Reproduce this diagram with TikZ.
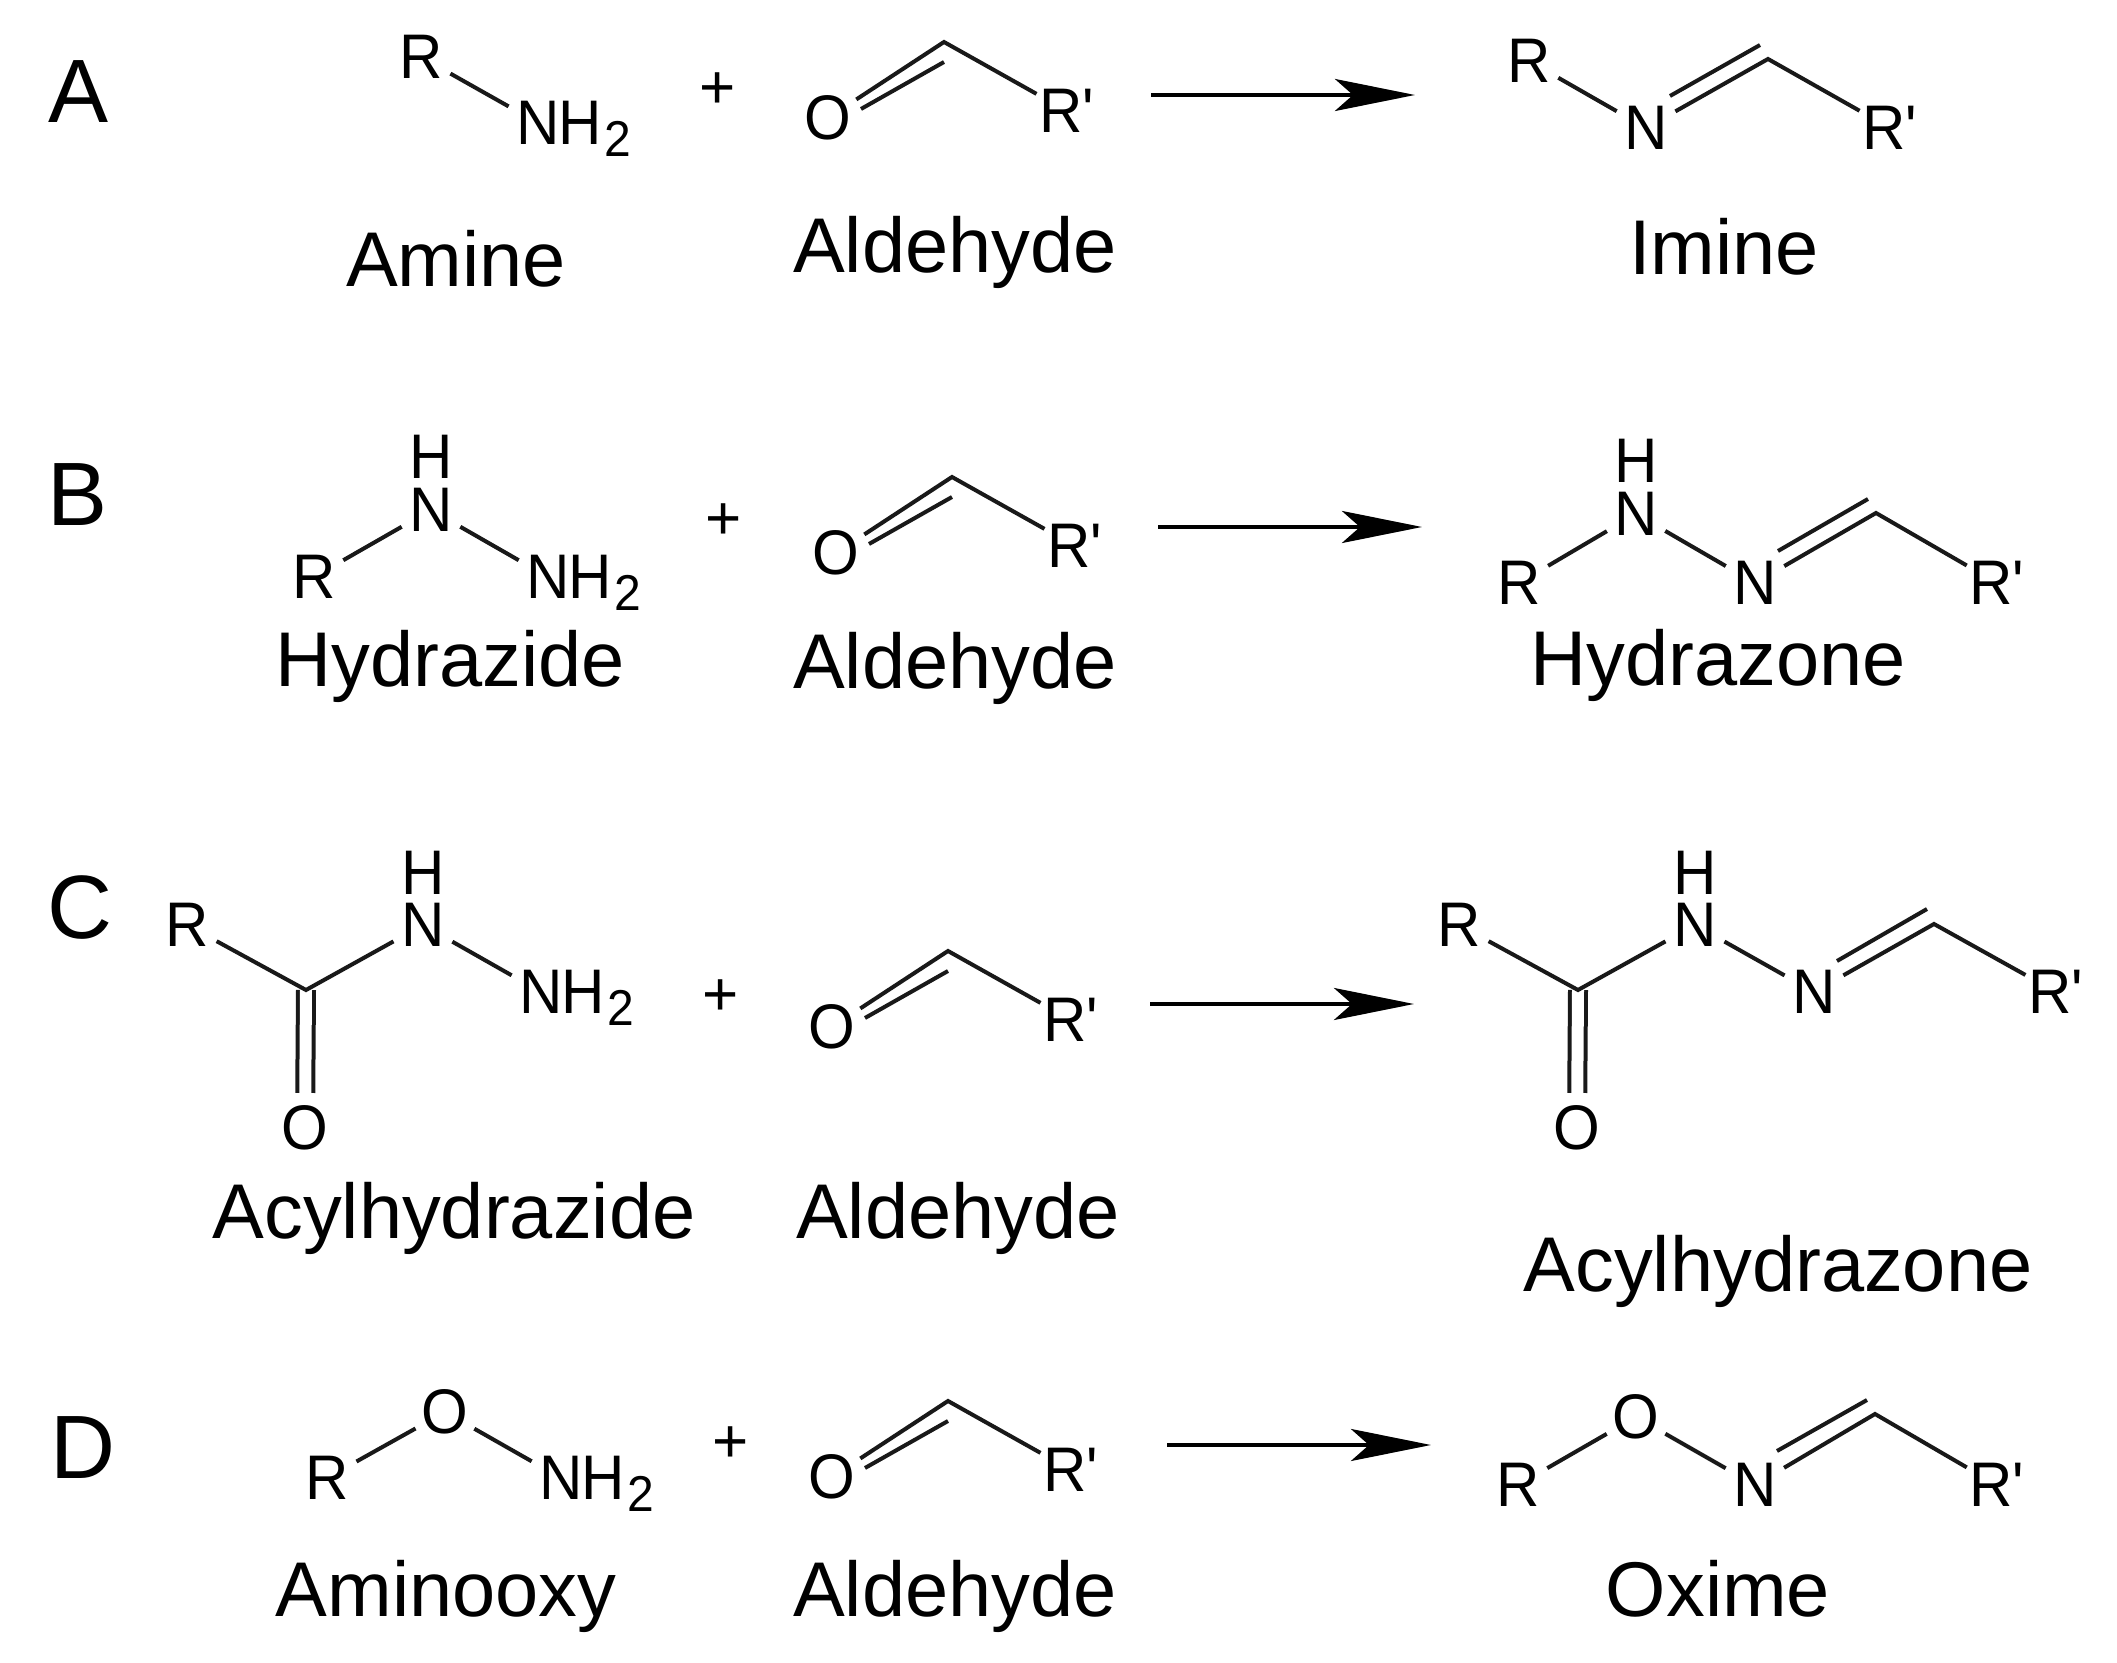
\documentclass[tikz,border=0pt]{standalone}
\usepackage{fontspec}
\setmainfont{Liberation Sans}
\usetikzlibrary{positioning, arrows.meta}
\newcommand{\rprime}{R\textquotesingle}
\tikzset{
    atom/.style={circle, inner sep=0pt, minimum size=33pt, font=\fontsize{30}{32}\selectfont, yscale=1.05, transform shape},
    hyd/.style={inner sep=0pt, font=\fontsize{30}{32}\selectfont, yscale=1.05, transform shape},
    cmpd/.style={anchor=base, inner sep=0pt, font=\fontsize{38.8}{40}\selectfont},
    panel/.style={anchor=base west, inner sep=0pt, font=\fontsize{45}{47}\selectfont},
    plussign/.style={inner sep=0pt, font=\fontsize{31}{33}\selectfont},
    bond/.style={line width=2pt, color=black!90},
    rxn/.style={line width=2.3pt, -{Stealth[length=40pt, width=16pt, inset=9pt]}}
}
\newcommand{\hh}{H\kern1.2pt\raisebox{-5.5pt}{\fontsize{24}{24}\selectfont 2}}
\begin{document}
\begin{tikzpicture}[x=0.5pt, y=-0.5pt]
    \useasboundingbox (0,0) rectangle (2117,1663);
    % panel letters
    \node[panel] (lA) at (48,123) {A};
    \node[panel] (lB) at (47,526) {B};
    \node[panel] (lC) at (47,938) {C};
    \node[panel] (lD) at (50,1478) {D};
    % plus signs
    \node[plussign] (pA) at (718,91) {+};
    \node[plussign] (pB) at (724,522) {+};
    \node[plussign] (pC) at (721,998) {+};
    \node[plussign] (pD) at (731,1445) {+};
    % the aldehyde and the arrow repeat in every row
    \foreach \l/\x/\y/\ax/\ay/\nx/\ny in {A/944/42/1151/95/955/273, B/952/477/1158/527/955/689, C/948/951/1150/1004/958/1238, D/948/1401/1167/1445/955/1616}
    {
        \begin{scope}[shift={(\x,\y)}]
            \node[atom] (o\l) at (-116,76) {O};
            \coordinate (c\l) at (0,0);
            \node[atom] (rp\l) at (123,69) {\rprime};
            \draw[bond] (o\l) -- (c\l) -- (rp\l);
            \draw[bond] ([shift={(-83,67)}]c\l) -- ([shift={(0,20)}]c\l);
        \end{scope}
        \node[cmpd] (ald\l) at (\nx,\ny) {Aldehyde};
        \coordinate (s\l) at (\ax,\ay);
        \coordinate (e\l) at (\ax+264,\ay);
        \draw[rxn] (s\l) -- (e\l);
    }
    % A: amine
    \node[atom] (ra) at (421,57) {R};
    \node[atom] (na) at (538,123) {N};
    \node[hyd, base right=-6.5pt of na] (ha) {\hh};
    \draw[bond] (ra) -- (na);
    \node[cmpd] (amine) at (456,287) {Amine};
    % A: imine
    \node[atom] (ri) at (1529,61) {R};
    \node[atom] (ni) at (1646,128) {N};
    \coordinate (ci) at (1768,59);
    \node[atom] (rpi) at (1890,128) {\rprime};
    \draw[bond] (ri) -- (ni);
    \draw[bond] (ni) -- (ci) -- (rpi);
    \draw[bond] ([shift={(-98,37)}]ci) -- ([shift={(-8,-14)}]ci);
    \node[cmpd] (imine) at (1724,275) {Imine};
    % B: hydrazide
    \node[atom] (rb) at (314,577) {R};
    \node[atom] (nb) at (431,510) {N};
    \node[atom] (hb) at (431,457) {H};
    \node[atom] (mb) at (548,577) {N};
    \node[hyd, base right=-6.5pt of mb] (hhb) {\hh};
    \draw[bond] (rb) -- (nb) -- (mb);
    \node[cmpd] (hydrazide) at (450,687) {Hydrazide};
    % B: hydrazone
    \node[atom] (rz) at (1519,583) {R};
    \node[atom] (nz) at (1636,514) {N};
    \node[atom] (hz) at (1636,461) {H};
    \node[atom] (mz) at (1755,583) {N};
    \coordinate (cz) at (1876,513);
    \node[atom] (rpz) at (1997,583) {\rprime};
    \draw[bond] (rz) -- (nz) -- (mz);
    \draw[bond] (mz) -- (cz) -- (rpz);
    \draw[bond] ([shift={(-98,38)}]cz) -- ([shift={(-8,-14)}]cz);
    \node[cmpd] (hydrazone) at (1718,686) {Hydrazone};
    % C: acylhydrazide
    \node[atom] (rc) at (187,925) {R};
    \coordinate (cc) at (306,990);
    \node[atom] (oc) at (305,1128) {O};
    \node[atom] (nc) at (423,925) {N};
    \node[atom] (hc) at (423,873) {H};
    \node[atom] (mc) at (541,992) {N};
    \node[hyd, base right=-6.5pt of mc] (hhc) {\hh};
    \draw[bond, double, double distance=6pt] (cc) -- (oc);
    \draw[bond] (rc) -- (cc) -- (nc) -- (mc);
    \node[cmpd] (acylide) at (454,1238) {Acylhydrazide};
    % C: acylhydrazone
    \node[atom] (ry) at (1459,925) {R};
    \coordinate (cy) at (1578,990);
    \node[atom] (oy) at (1577,1128) {O};
    \node[atom] (ny) at (1695,925) {N};
    \node[atom] (hy) at (1695,873) {H};
    \node[atom] (my) at (1814,992) {N};
    \coordinate (dy) at (1934,924);
    \node[atom] (rpy) at (2056,992) {\rprime};
    \draw[bond, double, double distance=6pt] (cy) -- (oy);
    \draw[bond] (ry) -- (cy) -- (ny) -- (my);
    \draw[bond] (my) -- (dy) -- (rpy);
    \draw[bond] ([shift={(-97,37)}]dy) -- ([shift={(-7,-15)}]dy);
    \node[cmpd] (acylone) at (1778,1291) {Acylhydrazone};
    % D: aminooxy
    \node[atom] (rd) at (327,1478) {R};
    \node[atom] (od) at (445,1412) {O};
    \node[atom] (nd) at (561,1478) {N};
    \node[hyd, base right=-6.5pt of nd] (hhd) {\hh};
    \draw[bond] (rd) -- (od) -- (nd);
    \node[cmpd] (aminooxy) at (446,1616) {Aminooxy};
    % D: oxime
    \node[atom] (rx) at (1518,1485) {R};
    \node[atom] (ox) at (1636,1417) {O};
    \node[atom] (nx) at (1755,1485) {N};
    \coordinate (cx) at (1875,1414);
    \node[atom] (rpx) at (1997,1485) {\rprime};
    \draw[bond] (rx) -- (ox) -- (nx);
    \draw[bond] (nx) -- (cx) -- (rpx);
    \draw[bond] ([shift={(-98,37)}]cx) -- ([shift={(-8,-14)}]cx);
    \node[cmpd] (oxime) at (1718,1616) {Oxime};
\end{tikzpicture}
\end{document}
